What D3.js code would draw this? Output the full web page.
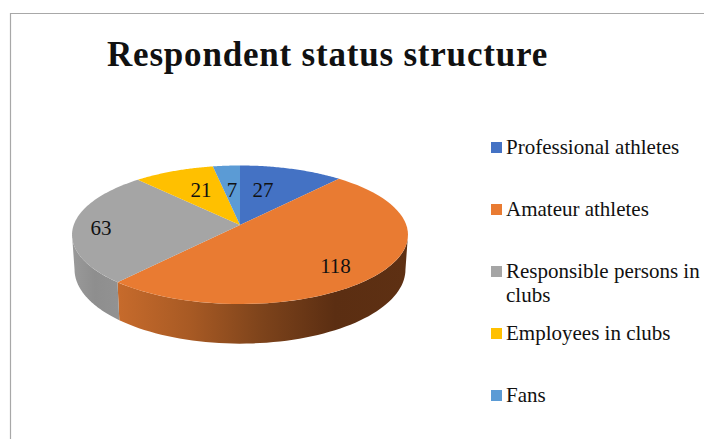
<!DOCTYPE html>
<html>
<head>
<meta charset="utf-8">
<script src="https://cdn.jsdelivr.net/npm/d3@7"></script>
<style>
  html, body { margin: 0; padding: 0; background: #fff; }
  svg { display: block; }
  text { font-family: "Liberation Serif", serif; fill: #111; }
</style>
</head>
<body>
<svg id="chart" width="704" height="439"></svg>
<script>
const titleText = "Respondent status structure";
const categories = ["Professional athletes", "Amateur athletes", "Responsible persons in clubs", "Employees in clubs", "Fans"];
const counts = [27, 118, 63, 21, 7];
const sliceColors = ["#4472c4", "#e97b32", "#a5a5a5", "#ffc000", "#5b9bd5"];

// Tilted disc: perspective projection of the unit circle onto the page.
const disc = { cx: 240, cy: 225, rx: 166.3, ry: 67.9, tilt: 0.141, depth: 34, baseShrink: 0.985 };

// Label anchors on the page, in slice order.
const labelSpots = [[263, 190], [335.5, 266], [101, 228], [201, 190], [232, 190]];

// Legend rows: top of swatch and the wrapped lines of each entry.
const legendRows = [
  { y: 142, lines: ["Professional athletes"] },
  { y: 204, lines: ["Amateur athletes"] },
  { y: 266, lines: ["Responsible persons in", "clubs"] },
  { y: 328, lines: ["Employees in clubs"] },
  { y: 390, lines: ["Fans"] }
];

const svg = d3.select("#chart");

// Chart frame, open to the right and bottom of the page.
svg.append("path")
  .attr("d", "M10.5,439V13.5H704")
  .attr("fill", "none")
  .attr("stroke", "#a8a8a8")
  .attr("stroke-width", 1.2);

svg.append("text")
  .attr("x", 107).attr("y", 66)
  .attr("font-size", 35).attr("font-weight", "bold")
  .attr("letter-spacing", 0.8)
  .text(titleText);

// Map an angle (clockwise from the back of the disc) and radius to page coordinates.
function project(theta, r = 1, base = false) {
  const u = Math.sin(theta) * r, v = -Math.cos(theta) * r;
  const w = 1 - disc.tilt * v;
  const s = base ? disc.baseShrink : 1;
  return [
    disc.cx + s * disc.rx * u / w,
    disc.cy + disc.ry * v / w + (base ? disc.depth / w : 0)
  ];
}

const pie = d3.pie().sort(null);
const arcs = pie(counts);
const line = d3.line();
const sweep = (a0, a1) => d3.range(0, 61).map(i => a0 + (a1 - a0) * i / 60);

// The rim is only visible between the two points where the disc outline turns back.
const rimStart = Math.acos(-disc.tilt);
const rimEnd = 2 * Math.PI - rimStart;

// Shaded gradients for the rim of the disc.
const defs = svg.append("defs");
const rimShades = [
  { id: "rim1", x1: 117, x2: 408, stops: ["#c76b2c", "#a85a24", "#7d431b", "#5b2e12", "#5e3013"] },
  { id: "rim2", x1: 72, x2: 118, stops: ["#9a9a9a", "#8e8e8e", "#929292"] }
];
rimShades.forEach(g => {
  const grad = defs.append("linearGradient")
    .attr("id", g.id).attr("gradientUnits", "userSpaceOnUse")
    .attr("x1", g.x1).attr("x2", g.x2).attr("y1", 0).attr("y2", 0);
  g.stops.forEach((c, i) => grad.append("stop")
    .attr("offset", i / (g.stops.length - 1)).attr("stop-color", c));
});

// Rim strips go first so the top faces sit over their upper edge.
svg.append("g").selectAll("path")
  .data(arcs.filter(d => d.endAngle > rimStart && d.startAngle < rimEnd))
  .join("path")
  .attr("d", d => {
    const t = sweep(Math.max(d.startAngle, rimStart), Math.min(d.endAngle, rimEnd));
    return line([...t.map(a => project(a)), ...t.slice().reverse().map(a => project(a, 1, true))]) + "Z";
  })
  .attr("fill", d => d.index === 1 ? "url(#rim1)" : "url(#rim2)");

svg.append("g").selectAll("path").data(arcs).join("path")
  .attr("d", d => line([[disc.cx, disc.cy], ...sweep(d.startAngle, d.endAngle).map(a => project(a))]) + "Z")
  .attr("fill", (d, i) => sliceColors[i]);

svg.append("g").selectAll("text").data(counts).join("text")
  .attr("x", (d, i) => labelSpots[i][0])
  .attr("y", (d, i) => labelSpots[i][1])
  .attr("dy", "0.35em")
  .attr("text-anchor", "middle")
  .attr("font-size", 21)
  .text(d => d);

const legend = svg.append("g").selectAll("g").data(categories).join("g");
legend.append("rect")
  .attr("x", 491).attr("y", (d, i) => legendRows[i].y)
  .attr("width", 11).attr("height", 11)
  .attr("fill", (d, i) => sliceColors[i]);
legend.each(function (d, i) {
  d3.select(this).selectAll("text").data(legendRows[i].lines).join("text")
    .attr("x", 506)
    .attr("y", (l, j) => legendRows[i].y + 12 + j * 24)
    .attr("font-size", 21)
    .text(l => l);
});
</script>
</body>
</html>
